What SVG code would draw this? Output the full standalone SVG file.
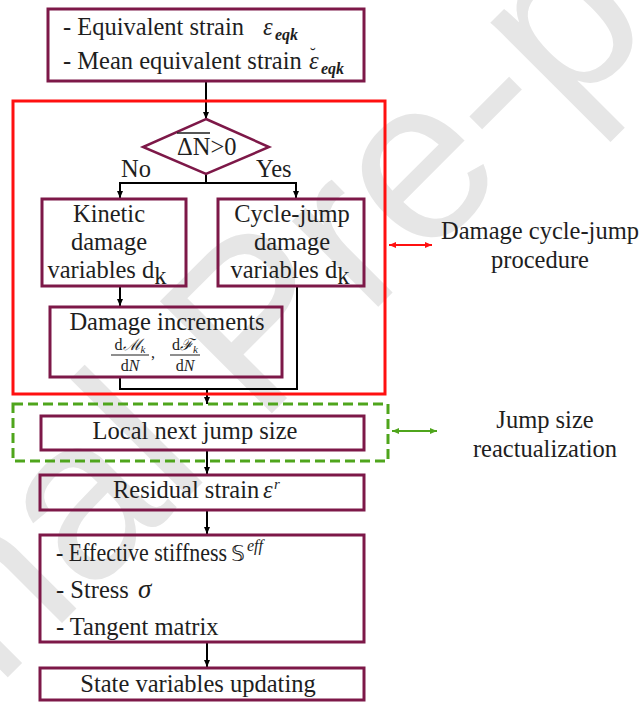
<svg xmlns="http://www.w3.org/2000/svg" width="639" height="702" viewBox="0 0 639 702" font-family="'Liberation Serif', 'DejaVu Serif', serif">
<defs>
<marker id="ah" markerWidth="7" markerHeight="6" refX="7" refY="3" orient="auto" markerUnits="userSpaceOnUse"><path d="M0,0 L7,3 L0,6 z" fill="#000"/></marker>
<marker id="ar" markerWidth="7" markerHeight="6" refX="7" refY="3" orient="auto-start-reverse" markerUnits="userSpaceOnUse"><path d="M0,0 L7,3 L0,6 z" fill="#ff1010"/></marker>
<marker id="ag" markerWidth="7" markerHeight="6" refX="7" refY="3" orient="auto-start-reverse" markerUnits="userSpaceOnUse"><path d="M0,0 L7,3 L0,6 z" fill="#4fa51c"/></marker>
</defs>
<style>
.t{font-family:'Liberation Serif','DejaVu Serif',serif;font-size:24.5px;fill:#1e1e1e}
.s{font-family:'Liberation Serif','DejaVu Serif',serif;font-size:16px;fill:#1e1e1e}
.m{font-style:italic}
.box{fill:none;stroke:#7d1848;stroke-width:3}
.c{fill:none;stroke:#000;stroke-width:2}
.wm{font-family:'Liberation Sans',Arial,sans-serif;font-size:230px;fill:#e6e6e6}
</style>
<text class="wm" transform="translate(-320,1005) rotate(-45)">Journal Pre-proof</text>

<g id="connectors">
<line class="c" x1="206" y1="81" x2="206" y2="119" marker-end="url(#ah)"/>
<polyline class="c" points="206,174 206,183 120,183 120,198" marker-end="url(#ah)"/>
<polyline class="c" points="206,183 296,183 296,198" marker-end="url(#ah)"/>
<line class="c" x1="120" y1="286" x2="120" y2="306" marker-end="url(#ah)"/>
<polyline class="c" points="120,377 120,389 297,389 297,286"/>
<line class="c" x1="207" y1="389" x2="207" y2="404" marker-end="url(#ah)"/>
<line class="c" x1="207" y1="450" x2="207" y2="474" marker-end="url(#ah)"/>
<line class="c" x1="207" y1="510" x2="207" y2="534" marker-end="url(#ah)"/>
<line class="c" x1="207" y1="642" x2="207" y2="667" marker-end="url(#ah)"/>
<line x1="389" y1="245" x2="432" y2="245" stroke="#ff1010" stroke-width="2" marker-start="url(#ar)" marker-end="url(#ar)"/>
<line x1="392" y1="431" x2="437" y2="431" stroke="#4fa51c" stroke-width="2" marker-start="url(#ag)" marker-end="url(#ag)"/>
</g>

<g id="procedure-frame">
<rect x="13" y="101" width="372" height="293" fill="none" stroke="#ff1010" stroke-width="3"/>
</g>
<g id="jump-frame">
<rect x="13" y="404" width="375" height="57" fill="none" stroke="#4fa51c" stroke-width="3" stroke-dasharray="10,5"/>
</g>

<g id="strains">
<rect class="box" x="48" y="9" width="316" height="72"/>
<text class="t" x="63" y="35">- Equivalent strain</text>
<text class="t m" x="263" y="35">ε</text>
<text class="t m" x="275" y="40" style="font-size:16px;font-weight:bold">eqk</text>
<text class="t" x="63" y="69">- Mean equivalent strain</text>
<text class="t m" x="309" y="69">ε</text>
<text class="t" x="310" y="59" style="font-size:17px">˘</text>
<text class="t m" x="321" y="74" style="font-size:16px;font-weight:bold">eqk</text>
</g>

<g id="decision">
<polygon points="206,119 269,147 206,174 143,147" fill="none" stroke="#7d1848" stroke-width="2.5"/>
<text class="t" x="177" y="155">ΔN&gt;0</text>
<line x1="177" y1="133" x2="210" y2="133" stroke="#1e1e1e" stroke-width="1.3"/>
<text class="t" x="121" y="177">No</text>
<text class="t" x="256" y="177">Yes</text>
</g>

<g id="kinetic">
<rect class="box" x="42" y="199" width="144" height="87"/>
<text class="t" x="109" y="222" text-anchor="middle">Kinetic</text>
<text class="t" x="109" y="250" text-anchor="middle">damage</text>
<text class="t" x="107" y="278" text-anchor="middle">variables d<tspan dy="6">k</tspan></text>
</g>

<g id="cyclejump">
<rect class="box" x="218" y="199" width="146" height="87"/>
<text class="t" x="292" y="222" text-anchor="middle">Cycle-jump</text>
<text class="t" x="292" y="250" text-anchor="middle">damage</text>
<text class="t" x="290" y="278" text-anchor="middle">variables d<tspan dy="6">k</tspan></text>
</g>

<g id="increments">
<rect class="box" x="50" y="307" width="232" height="70"/>
<text class="t" x="167" y="330" text-anchor="middle">Damage increments</text>
<text class="s" x="130" y="350" text-anchor="middle">d<tspan class="m">ℳ</tspan><tspan dy="3" class="m" style="font-size:11px">k</tspan></text>
<line x1="111" y1="355" x2="149" y2="355" stroke="#1e1e1e" stroke-width="1"/>
<text class="s" x="130" y="371" text-anchor="middle">d<tspan class="m">N</tspan></text>
<text class="s" x="151" y="358">,</text>
<text class="s" x="185" y="350" text-anchor="middle">d<tspan class="m">ℱ</tspan><tspan dy="3" class="m" style="font-size:11px">k</tspan></text>
<line x1="170" y1="355" x2="200" y2="355" stroke="#1e1e1e" stroke-width="1"/>
<text class="s" x="185" y="371" text-anchor="middle">d<tspan class="m">N</tspan></text>
</g>

<g id="jumpsize">
<rect class="box" x="41" y="416" width="323" height="34"/>
<text class="t" x="195" y="439" text-anchor="middle">Local next jump size</text>
</g>

<g id="residual">
<rect class="box" x="40" y="475" width="324" height="35"/>
<text class="t" x="113" y="498">Residual strain</text>
<text class="t m" x="263" y="498">ε</text>
<text class="t m" x="274" y="489" style="font-size:15px">r</text>
</g>

<g id="effective">
<rect class="box" x="40" y="535" width="324" height="107"/>
<text class="t" x="56" y="561" textLength="171" lengthAdjust="spacingAndGlyphs">- Effective stiffness</text>
<text x="231" y="561" style="font-family:'DejaVu Sans',sans-serif;font-size:22px;fill:#1e1e1e">𝕊</text>
<text class="t m" x="247" y="551" style="font-size:16px">eff</text>
<text class="t" x="56" y="598">- Stress</text>
<text class="t m" x="138" y="598" style="font-size:27px">σ</text>
<text class="t" x="56" y="635">- Tangent matrix</text>
</g>

<g id="state">
<rect class="box" x="40" y="668" width="324" height="32"/>
<text class="t" x="198" y="692" text-anchor="middle">State variables updating</text>
</g>

<g id="labels">
<text class="t" x="540" y="239" text-anchor="middle">Damage cycle-jump</text>
<text class="t" x="540" y="268" text-anchor="middle">procedure</text>
<text class="t" x="545" y="428" text-anchor="middle">Jump size</text>
<text class="t" x="545" y="457" text-anchor="middle">reactualization</text>
</g>
</svg>
